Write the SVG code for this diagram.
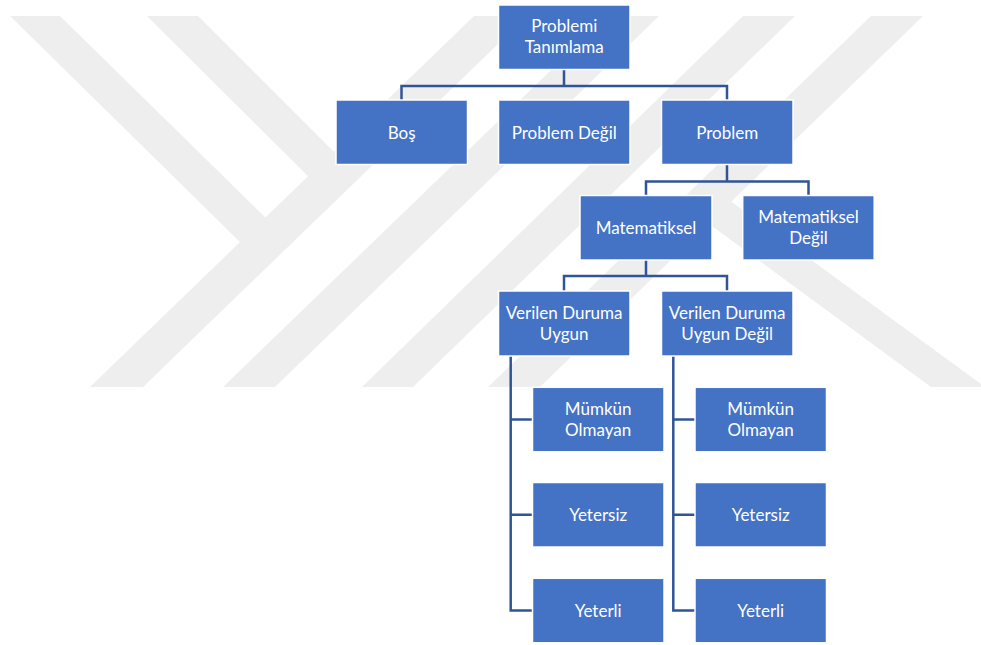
<svg xmlns="http://www.w3.org/2000/svg" width="981" height="645" viewBox="0 0 981 645">
  <defs>
    <style>
      .mark { fill: #eeeeee; }
      .box { fill: #4472c4; stroke: #ffffff; stroke-width: 1.5; }
      .lbl { fill: #ffffff; font-family: Lato, "Open Sans", "Liberation Sans", sans-serif; font-size: 17px; text-anchor: middle; }
      .wire { fill: none; stroke: #2f5597; stroke-width: 2.5; stroke-linejoin: miter; }
    </style>
  </defs>

  <rect width="981" height="645" fill="#ffffff"/>

  <!-- light grey backdrop emblem -->
  <g id="backdrop">
    <polygon class="mark" points="10,16 60,16 270,222 240,242"/>
    <polygon class="mark" points="147,16 198,16 359,177 334,202"/>
    <polygon class="mark" points="90,387 143,387 527,16 474,16"/>
    <polygon class="mark" points="223,387 275,387 659,16 607,16"/>
    <polygon class="mark" points="362,387 413,387 795,16 743,16"/>
    <polygon class="mark" points="488,387 540,387 923,16 871,16"/>
    <polygon class="mark" points="682,204 706,183 985,387 931,387"/>
  </g>

  <!-- connectors -->
  <g id="connectors">
    <path class="wire" d="M564,69 V86 M401.5,100 V86 H727 V100"/>
    <path class="wire" d="M727,165 V181.5 M646,195.5 V181.5 H808.5 V195.5"/>
    <path class="wire" d="M646,260 V276 M564,291 V276 H727 V291"/>
    <path class="wire" d="M510.7,356 V610.5 H532.5 M510.7,419.5 H532.5 M510.7,514.7 H532.5"/>
    <path class="wire" d="M673.3,356 V610.5 H695 M673.3,419.5 H695 M673.3,514.7 H695"/>
  </g>

  <!-- nodes -->
  <g id="n-root">
    <rect class="box" x="498.5" y="5" width="131.5" height="64.5"/>
    <text class="lbl" x="564.2" y="32.3">Problemi</text>
    <text class="lbl" x="564.2" y="53.3">Tanımlama</text>
  </g>
  <g id="n-bos">
    <rect class="box" x="336" y="100" width="131.5" height="64.5"/>
    <text class="lbl" x="401.7" y="138.5">Boş</text>
  </g>
  <g id="n-problem-degil">
    <rect class="box" x="498.5" y="100" width="131.5" height="64.5"/>
    <text class="lbl" x="564.2" y="138.5">Problem Değil</text>
  </g>
  <g id="n-problem">
    <rect class="box" x="661.5" y="100" width="131.5" height="64.5"/>
    <text class="lbl" x="727.2" y="138.5">Problem</text>
  </g>
  <g id="n-matematiksel">
    <rect class="box" x="580" y="195.5" width="132" height="64.5"/>
    <text class="lbl" x="646" y="234">Matematiksel</text>
  </g>
  <g id="n-matematiksel-degil">
    <rect class="box" x="742.7" y="195.5" width="131.5" height="64.5"/>
    <text class="lbl" x="808.5" y="223">Matematiksel</text>
    <text class="lbl" x="808.5" y="244">Değil</text>
  </g>
  <g id="n-uygun">
    <rect class="box" x="498.5" y="291" width="131.5" height="65"/>
    <text class="lbl" x="564.2" y="318.5">Verilen Duruma</text>
    <text class="lbl" x="564.2" y="339.5">Uygun</text>
  </g>
  <g id="n-uygun-degil">
    <rect class="box" x="661.5" y="291" width="131.5" height="65"/>
    <text class="lbl" x="727.2" y="318.5">Verilen Duruma</text>
    <text class="lbl" x="727.2" y="339.5">Uygun Değil</text>
  </g>
  <g id="n-u-mumkun">
    <rect class="box" x="532.5" y="387.3" width="131.5" height="64.5"/>
    <text class="lbl" x="598.2" y="414.8">Mümkün</text>
    <text class="lbl" x="598.2" y="435.8">Olmayan</text>
  </g>
  <g id="n-u-yetersiz">
    <rect class="box" x="532.5" y="482.5" width="131.5" height="64.5"/>
    <text class="lbl" x="598.2" y="521">Yetersiz</text>
  </g>
  <g id="n-u-yeterli">
    <rect class="box" x="532.5" y="578.3" width="131.5" height="64.5"/>
    <text class="lbl" x="598.2" y="616.8">Yeterli</text>
  </g>
  <g id="n-d-mumkun">
    <rect class="box" x="695" y="387.3" width="131.5" height="64.5"/>
    <text class="lbl" x="760.7" y="414.8">Mümkün</text>
    <text class="lbl" x="760.7" y="435.8">Olmayan</text>
  </g>
  <g id="n-d-yetersiz">
    <rect class="box" x="695" y="482.5" width="131.5" height="64.5"/>
    <text class="lbl" x="760.7" y="521">Yetersiz</text>
  </g>
  <g id="n-d-yeterli">
    <rect class="box" x="695" y="578.3" width="131.5" height="64.5"/>
    <text class="lbl" x="760.7" y="616.8">Yeterli</text>
  </g>
</svg>
